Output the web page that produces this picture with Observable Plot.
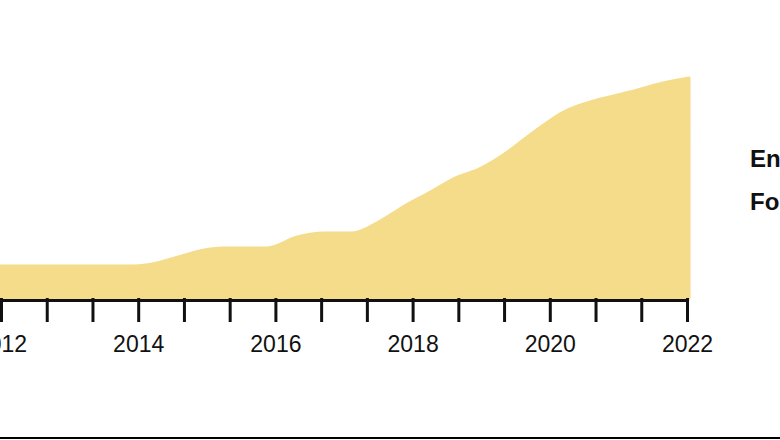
<!DOCTYPE html>
<html>
<head>
<meta charset="utf-8">
<script src="https://cdn.jsdelivr.net/npm/d3@7"></script>
<script src="https://cdn.jsdelivr.net/npm/@observablehq/plot@0.6"></script>
<style>
  html, body { margin: 0; padding: 0; background: #fff; overflow: hidden; }
  #wrap { position: relative; width: 780px; height: 440px; }
  .lab { position: absolute; left: 750px; font-family: "Liberation Sans", Arial, sans-serif; font-weight: 700; font-size: 24px; line-height: 24px; color: #111; white-space: nowrap; }
  #rule { position: absolute; left: 0; top: 437px; width: 780px; height: 2px; background: #000; }
</style>
</head>
<body>
<div id="wrap"></div>
<script>
// Data
const years  = [2011.98, 2013.93, 2015.24, 2015.88, 2016.32, 2016.70, 2017.12, 2017.53, 2017.86, 2018.26, 2018.65, 2018.94, 2019.32, 2019.71, 2020.20, 2020.69, 2021.17, 2021.65, 2022.03];
const values = [32, 32, 50, 50, 61, 65, 65, 77, 91, 106, 121, 128, 143, 163, 186, 198, 206, 215, 220];
const tickYears  = [2012, 2012 + 2/3, 2013 + 1/3, 2014, 2014 + 2/3, 2015 + 1/3, 2016, 2016 + 2/3, 2017 + 1/3, 2018, 2018 + 2/3, 2019 + 1/3, 2020, 2020 + 2/3, 2021 + 1/3, 2022];
const labelYears = [2012, 2014, 2016, 2018, 2020, 2022];
const sideLabels = ["En", "Fo"];

const data = years.map((year, i) => ({year, value: values[i]}));
const fillColor = "#f4dc8b";

const chart = Plot.plot({
  width: 780,
  height: 438,
  marginLeft: 1,
  marginRight: 93,
  marginTop: 78,
  marginBottom: 140,
  style: {fontFamily: "Liberation Sans, Arial, sans-serif", fontSize: "23px", color: "#111", background: "#fff", overflow: "visible"},
  x: {domain: [2012, 2022], axis: null},
  y: {domain: [0, 220], axis: null},
  marks: [
    Plot.areaY(data, {x: "year", y: "value", fill: fillColor, stroke: fillColor, strokeWidth: 3, strokeLinejoin: "round", curve: "monotone-x"}),
    Plot.axisX({ticks: tickYears, tickSize: 24, tickFormat: () => "", label: null, strokeWidth: 3, stroke: "#111"}),
    Plot.axisX({ticks: labelYears, tickSize: 0, tickPadding: 37, tickFormat: "d", label: null, fill: "#111"}),
    Plot.ruleY([0], {x1: years[0], x2: years[years.length - 1], stroke: "#111", strokeWidth: 3, dy: 2})
  ]
});

const wrap = document.getElementById("wrap");
wrap.appendChild(chart);
const tops = [147, 190];
sideLabels.forEach((t, i) => {
  const d = document.createElement("div");
  d.className = "lab";
  d.style.top = tops[i] + "px";
  d.textContent = t;
  wrap.appendChild(d);
});
const r = document.createElement("div");
r.id = "rule";
wrap.appendChild(r);
</script>
</body>
</html>
